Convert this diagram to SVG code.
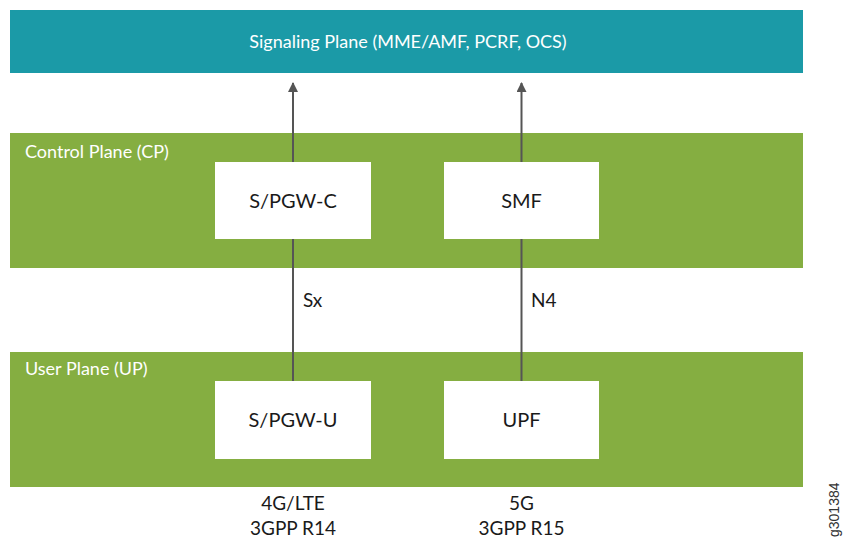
<svg xmlns="http://www.w3.org/2000/svg" width="843" height="540" viewBox="0 0 843 540">
<defs>
<style>
.plane{fill:#85ae41}
.box{fill:#ffffff}
.lbl{font-family:Lato,"Liberation Sans",sans-serif;font-size:20px;fill:#1a1a1a;text-anchor:middle}
.pl{font-family:Lato,"Liberation Sans",sans-serif;font-size:18px;fill:#ffffff}
.conn{stroke:#555555;stroke-width:2;fill:none}
</style>
<marker id="ah" viewBox="0 0 10 10" refX="9" refY="5" markerWidth="5" markerHeight="5" orient="auto" markerUnits="strokeWidth">
<path d="M0,0 L10,5 L0,10 z" fill="#555555"/>
</marker>
</defs>
<rect width="843" height="540" fill="#ffffff"/>
<g id="signaling-plane">
<rect x="10" y="10" width="793" height="63" fill="#1b9aa7"/>
<text x="408" y="48" class="pl" text-anchor="middle">Signaling Plane (MME/AMF, PCRF, OCS)</text>
</g>
<g id="control-plane">
<rect class="plane" x="10" y="133" width="793" height="135"/>
<text x="25" y="158" class="pl">Control Plane (CP)</text>
</g>
<g id="user-plane">
<rect class="plane" x="10" y="352" width="793" height="135"/>
<text x="25" y="375" class="pl">User Plane (UP)</text>
</g>
<g id="connectors">
<line class="conn" x1="293" y1="162" x2="293" y2="83" marker-end="url(#ah)"/>
<line class="conn" x1="521.5" y1="162" x2="521.5" y2="83" marker-end="url(#ah)"/>
<line class="conn" x1="293" y1="239" x2="293" y2="381"/>
<line class="conn" x1="521.5" y1="239" x2="521.5" y2="381"/>
<text x="303" y="307" class="lbl" style="text-anchor:start;font-size:19px">Sx</text>
<text x="531" y="307" class="lbl" style="text-anchor:start;font-size:19px">N4</text>
</g>
<g id="spgw-c">
<rect class="box" x="215" y="162" width="156" height="77"/>
<text x="293" y="208" class="lbl">S/PGW-C</text>
</g>
<g id="smf">
<rect class="box" x="444" y="162" width="155" height="77"/>
<text x="521.5" y="208" class="lbl">SMF</text>
</g>
<g id="spgw-u">
<rect class="box" x="215" y="381" width="156" height="78"/>
<text x="293" y="427" class="lbl">S/PGW-U</text>
</g>
<g id="upf">
<rect class="box" x="444" y="381" width="155" height="78"/>
<text x="521.5" y="427" class="lbl">UPF</text>
</g>
<g id="footer">
<text x="293" y="510" class="lbl" style="font-size:19px">4G/LTE</text>
<text x="293" y="535" class="lbl" style="font-size:19px">3GPP R14</text>
<text x="521.5" y="510" class="lbl" style="font-size:19px">5G</text>
<text x="521.5" y="535" class="lbl" style="font-size:19px">3GPP R15</text>
<text transform="translate(839,537) rotate(-90)" font-family="Liberation Sans, Arial, sans-serif" font-size="14" fill="#333333">g301384</text>
</g>
</svg>
